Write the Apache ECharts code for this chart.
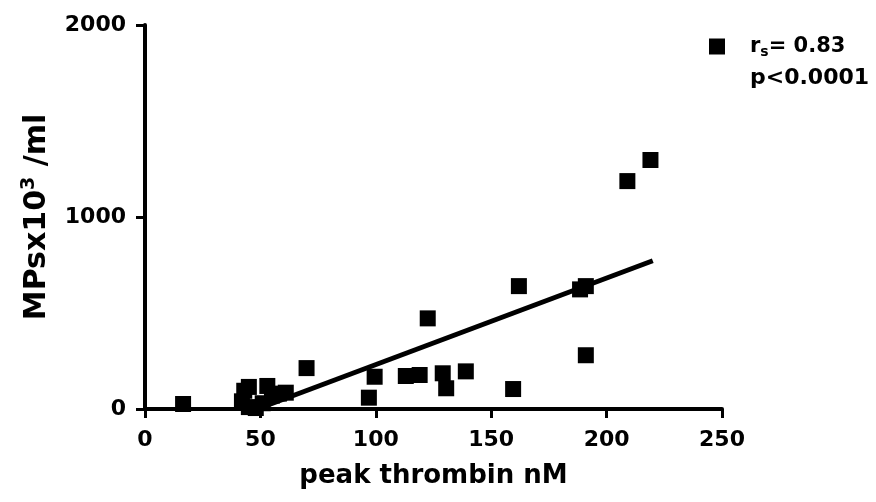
<!DOCTYPE html>
<html>
<head>
<meta charset="utf-8">
<script src="https://cdn.jsdelivr.net/npm/echarts@6/dist/echarts.min.js"></script>
<style>
html,body{margin:0;padding:0;background:#fff;}
#chart{width:876px;height:502px;}
</style>
</head>
<body>
<div id="chart"></div>
<script>
// Data
var thrombin = [16.5, 42, 43, 45, 45, 48, 51, 53, 55, 58, 61, 70, 97, 99.5, 113, 119, 129, 130.5, 139, 122.5, 159.5, 162, 188.5, 191, 191, 209, 219];
var mps      = [26, 40, 95, 115, 10, 5, 30, 120, 70, 80, 85, 213, 59, 168, 172, 177, 186, 108, 196, 472, 104, 640, 623, 640, 280, 1187, 1297];
var fitX = [48.7, 220];
var fitY = [0, 772];
var xTicks = [0, 50, 100, 150, 200, 250];
var yTicks = [0, 1000, 2000];

var points = thrombin.map(function (x, i) { return [x, mps[i]]; });
var fitLine = fitX.map(function (x, i) { return [x, fitY[i]]; });

var FONT = '"DejaVu Sans", sans-serif';
var chart = echarts.init(document.getElementById('chart'), null, {renderer: 'canvas'});
chart.setOption({
  animation: false,
  backgroundColor: '#fff',
  grid: {left: 145, right: 154, top: 25, bottom: 93, containLabel: false},
  legend: {
    data: [{name: 'scatter', icon: 'rect'}],
    left: 704, top: 31,
    itemWidth: 16, itemHeight: 16, itemGap: 10,
    formatter: function () { return '{a|r}{s|s}{a|= 0.83}'; },
    textStyle: {
      padding: [0, 0, 0, 20],
      rich: {
        a: {fontFamily: FONT, fontWeight: 'bold', fontSize: 21, color: '#000'},
        s: {fontFamily: FONT, fontWeight: 'bold', fontSize: 14, color: '#000', verticalAlign: 'bottom', padding: [11, 0, 0, 0]}
      }
    }
  },
  graphic: [{
    type: 'text', left: 750, top: 67,
    style: {text: 'p<0.0001', fontFamily: FONT, fontWeight: 'bold', fontSize: 22, fill: '#000'}
  }],
  xAxis: {
    type: 'value', min: 0, max: 250, interval: 50,
    name: 'peak thrombin nM', nameLocation: 'middle', nameGap: 54,
    nameTextStyle: {fontFamily: FONT, fontWeight: 'bold', fontSize: 26, color: '#000'},
    axisLine: {show: true, onZero: false, lineStyle: {color: '#000', width: 4}},
    axisTick: {show: true, length: 9, lineStyle: {color: '#000', width: 3}},
    splitLine: {show: false},
    axisLabel: {fontFamily: FONT, fontWeight: 'bold', fontSize: 22, color: '#000', margin: 20,
      formatter: function (v) { return xTicks.indexOf(v) >= 0 ? String(v) : ''; }}
  },
  yAxis: {
    type: 'value', min: 0, max: 2000, interval: 1000,
    name: '{a|MPsx10}{sup|3}{a| /ml}', nameLocation: 'middle', nameGap: 90, nameRotate: 90,
    nameTextStyle: {
      rich: {
        a: {fontFamily: FONT, fontWeight: 'bold', fontSize: 30, color: '#000'},
        sup: {fontFamily: FONT, fontWeight: 'bold', fontSize: 19, color: '#000', verticalAlign: 'top', padding: [0, 0, 16, 0]}
      }
    },
    axisLine: {show: true, onZero: false, lineStyle: {color: '#000', width: 4}},
    axisTick: {show: true, length: 9, lineStyle: {color: '#000', width: 3}},
    splitLine: {show: false},
    axisLabel: {fontFamily: FONT, fontWeight: 'bold', fontSize: 22, color: '#000', margin: 19,
      formatter: function (v) { return yTicks.indexOf(v) >= 0 ? String(v) : ''; }}
  },
  series: [{
    name: 'scatter', type: 'scatter', data: points,
    symbol: 'rect', symbolSize: 16,
    itemStyle: {color: '#000', opacity: 1},
    z: 3
  }, {
    name: 'fit', type: 'line', data: fitLine,
    symbol: 'none', lineStyle: {color: '#000', width: 5},
    silent: true, z: 2
  }]
});
</script>
</body>
</html>
